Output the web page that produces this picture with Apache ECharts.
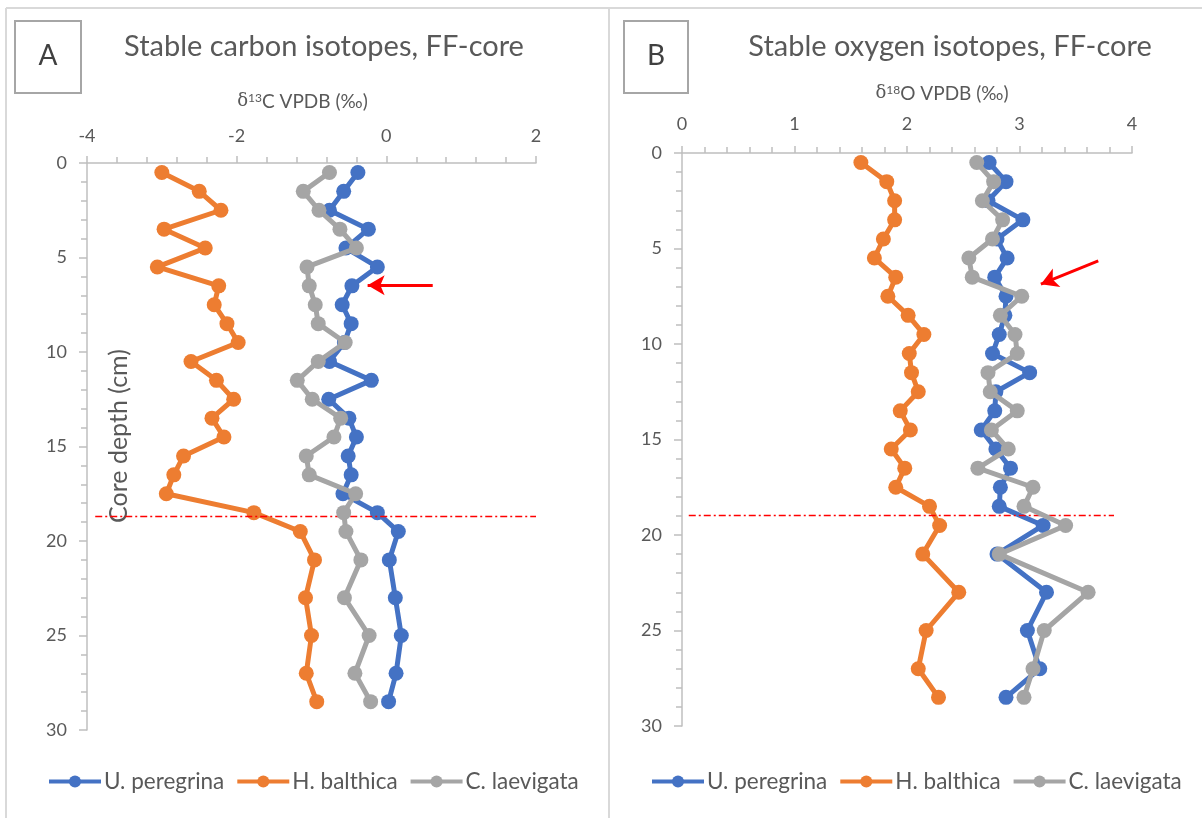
<!DOCTYPE html>
<html>
<head>
<meta charset="utf-8">
<script src="https://cdn.jsdelivr.net/npm/echarts@6/dist/echarts.min.js"></script>
<style>html,body{margin:0;padding:0;background:#fff}#c{width:1202px;height:818px}</style>
</head>
<body>
<div id="c"></div>
<script>
// Core depth (cm) of each sample
const depth = [0.5,1.5,2.5,3.5,4.5,5.5,6.5,7.5,8.5,9.5,10.5,11.5,12.5,13.5,14.5,15.5,16.5,17.5,18.5,19.5,21,23,25,27,28.5];
const seriesNames = ['U. peregrina','H. balthica','C. laevigata'];
// δ13C VPDB (‰)
const carbonUp = [-0.38,-0.57,-0.76,-0.24,-0.54,-0.12,-0.46,-0.59,-0.47,-0.56,-0.76,-0.20,-0.77,-0.50,-0.40,-0.51,-0.47,-0.58,-0.12,0.16,0.04,0.12,0.20,0.13,0.03];
const carbonHb = [-3.00,-2.50,-2.21,-2.97,-2.42,-3.06,-2.24,-2.30,-2.13,-1.98,-2.61,-2.27,-2.04,-2.33,-2.17,-2.71,-2.84,-2.94,-1.77,-1.15,-0.96,-1.08,-1.00,-1.07,-0.93];
const carbonCl = [-0.76,-1.11,-0.90,-0.62,-0.40,-1.06,-1.03,-0.95,-0.91,-0.55,-0.91,-1.19,-0.99,-0.61,-0.70,-1.07,-1.03,-0.41,-0.57,-0.54,-0.34,-0.56,-0.23,-0.42,-0.21];
// δ18O VPDB (‰)
const oxygenUp = [2.73,2.88,2.72,3.03,2.80,2.89,2.78,2.88,2.87,2.82,2.76,3.09,2.79,2.78,2.66,2.79,2.92,2.83,2.82,3.21,2.80,3.24,3.07,3.18,2.88];
const oxygenHb = [1.59,1.82,1.89,1.89,1.79,1.71,1.90,1.83,2.01,2.15,2.02,2.04,2.10,1.94,2.03,1.86,1.98,1.90,2.20,2.29,2.14,2.46,2.17,2.10,2.28];
const oxygenCl = [2.62,2.77,2.67,2.85,2.76,2.55,2.58,3.02,2.83,2.96,2.98,2.72,2.74,2.98,2.75,2.90,2.63,3.12,3.04,3.41,2.82,3.61,3.22,3.12,3.04];
// x-axis ranges
const carbonTicks = [-4, 2, 2];   // min, max, interval
const oxygenTicks = [0, 4, 1];
// annotations (data coordinates): boundary depth and arrows
const boundaryC = 18.7, boundaryO = 18.95;
const boundaryCx = [-3.89, 2.0], boundaryOx = [0.06, 3.84];
const arrowC = [[0.62, 6.47], [-0.25, 6.47]];
const arrowO = [[3.70, 5.65], [3.19, 6.87]];

const colors = ['#4472C4', '#ED7D31', '#A5A5A5'];
const FONT = 'Lato';
const TXT = '#595959';
const AX = '#BFBFBF';
const LINE_W = 5;

function pairs(vals) { return vals.map((v, i) => [v, depth[i]]); }

function mkSeries(names, arrs, idx, bnd, bx, arrow) {
  return arrs.map((a, k) => {
    const s = {
      name: names[k], type: 'line', xAxisIndex: idx, yAxisIndex: idx,
      data: pairs(a), symbol: 'circle', symbolSize: 15, showSymbol: true,
      color: colors[k],
      itemStyle: { color: colors[k] },
      lineStyle: { color: colors[k], width: LINE_W },
      z: 3 + k
    };
    if (k === 2) {
      s.markLine = {
        silent: true, animation: false, label: { show: false },
        emphasis: { disabled: true },
        data: [
          [{ coord: [bx[0], bnd], symbol: 'none', lineStyle: { color: '#FF0000', width: 1.3, type: [7, 3, 2, 3] } },
           { coord: [bx[1], bnd], symbol: 'none' }],
          [{ coord: arrow[0], symbol: 'none', lineStyle: { color: '#FF0000', width: 3, type: 'solid' } },
           { coord: arrow[1], symbol: 'arrow', symbolSize: [15, 17] }]
        ]
      };
    }
    return s;
  });
}

function xAx(idx, t, nameRich, pad, gap, margin) {
  return {
    gridIndex: idx, type: 'value', position: 'top', min: t[0], max: t[1], interval: t[2],
    name: nameRich, nameLocation: 'middle', nameGap: gap,
    nameTextStyle: {
      color: TXT, fontFamily: FONT, fontSize: 19, padding: pad,
      rich: {
        d: { fontFamily: 'DejaVu Serif', fontSize: 18, color: TXT },
        s: { fontSize: 12, color: TXT, fontFamily: FONT, verticalAlign: 'top' },
        n: { fontSize: 19, color: TXT, fontFamily: FONT }
      }
    },
    axisLine: { show: true, onZero: false, lineStyle: { color: AX, width: 1.5 } },
    axisTick: { show: true, length: 7, lineStyle: { color: AX, width: 1.5 } },
    minorTick: { show: true, splitNumber: 5, length: 6, lineStyle: { color: AX, width: 1.5 } },
    splitLine: { show: false }, minorSplitLine: { show: false },
    axisLabel: { color: TXT, fontFamily: FONT, fontSize: 18, margin: margin }
  };
}
function yAx(idx) {
  return {
    gridIndex: idx, type: 'value', inverse: true, min: 0, max: 30, interval: 5,
    axisLine: { show: true, onZero: false, lineStyle: { color: AX, width: 1.5 } },
    axisTick: { show: true, length: 8, lineStyle: { color: AX, width: 1.5 } },
    minorTick: { show: true, splitNumber: 5, length: 6, lineStyle: { color: AX, width: 1.5 } },
    splitLine: { show: false }, minorSplitLine: { show: false },
    axisLabel: { color: TXT, fontFamily: FONT, fontSize: 18, margin: 20 }
  };
}

function mkLegend(left) {
  return {
    data: seriesNames, left: left, top: 770, padding: 0, itemWidth: 52, itemHeight: 15, itemGap: 11,
    lineStyle: { width: 4 },
    textStyle: { fontFamily: FONT, fontSize: 22.5, color: TXT, padding: [0, 0, 0, -2] }
  };
}

const chart = echarts.init(document.getElementById('c'), null, { renderer: 'canvas' });
chart.setOption({
  animation: false,
  backgroundColor: '#fff',
  title: [
    { text: 'Stable carbon isotopes, FF-core', left: 324, top: 30, textAlign: 'center', padding: 0,
      textStyle: { fontFamily: FONT, fontSize: 29, fontWeight: 'normal', color: TXT, lineHeight: 34 } },
    { text: 'Stable oxygen isotopes, FF-core', left: 950, top: 30, textAlign: 'center', padding: 0,
      textStyle: { fontFamily: FONT, fontSize: 29, fontWeight: 'normal', color: TXT, lineHeight: 34 } }
  ],
  legend: [mkLegend(47), mkLegend(650)],
  grid: [
    { left: 87, top: 163, width: 449, height: 567, containLabel: false },
    { left: 682, top: 153, width: 450, height: 573, containLabel: false }
  ],
  xAxis: [
    xAx(0, carbonTicks, '{d|δ}{s|13}{n|C VPDB (‰)}', [0, 18, 0, 0], 52, 18),
    xAx(1, oxygenTicks, '{d|δ}{s|18}{n|O VPDB (‰)}', [0, 0, 0, 70], 50, 20)
  ],
  yAxis: [yAx(0), yAx(1)],
  series: [
    ...mkSeries(seriesNames, [carbonUp, carbonHb, carbonCl], 0, boundaryC, boundaryCx, arrowC),
    ...mkSeries(seriesNames, [oxygenUp, oxygenHb, oxygenCl], 1, boundaryO, boundaryOx, arrowO)
  ],
  graphic: [
    { type: 'line', silent: true, shape: { x1: 6, y1: 8, x2: 1202, y2: 8 }, style: { stroke: '#D9D9D9', lineWidth: 2 } },
    { type: 'line', silent: true, shape: { x1: 6, y1: 8, x2: 6, y2: 818 }, style: { stroke: '#D9D9D9', lineWidth: 2 } },
    { type: 'line', silent: true, shape: { x1: 609, y1: 8, x2: 609, y2: 818 }, style: { stroke: '#D9D9D9', lineWidth: 2 } },
    { type: 'rect', silent: true, shape: { x: 15, y: 21, width: 66, height: 72 }, style: { fill: '#fff', stroke: '#A6A6A6', lineWidth: 2 } },
    { type: 'rect', silent: true, shape: { x: 624, y: 21, width: 64, height: 72 }, style: { fill: '#fff', stroke: '#A6A6A6', lineWidth: 2 } },
    { type: 'text', silent: true, x: 48, y: 56, style: { text: 'A', fontFamily: FONT, fontSize: 28, fill: '#404040', align: 'center', verticalAlign: 'middle' } },
    { type: 'text', silent: true, x: 656, y: 56, style: { text: 'B', fontFamily: FONT, fontSize: 28, fill: '#404040', align: 'center', verticalAlign: 'middle' } },
    { type: 'text', silent: true, x: 119, y: 436, rotation: Math.PI / 2,
      style: { text: 'Core depth (cm)', fontFamily: FONT, fontSize: 25, fill: TXT, align: 'center', verticalAlign: 'middle' } }
  ]
});
</script>
</body>
</html>
